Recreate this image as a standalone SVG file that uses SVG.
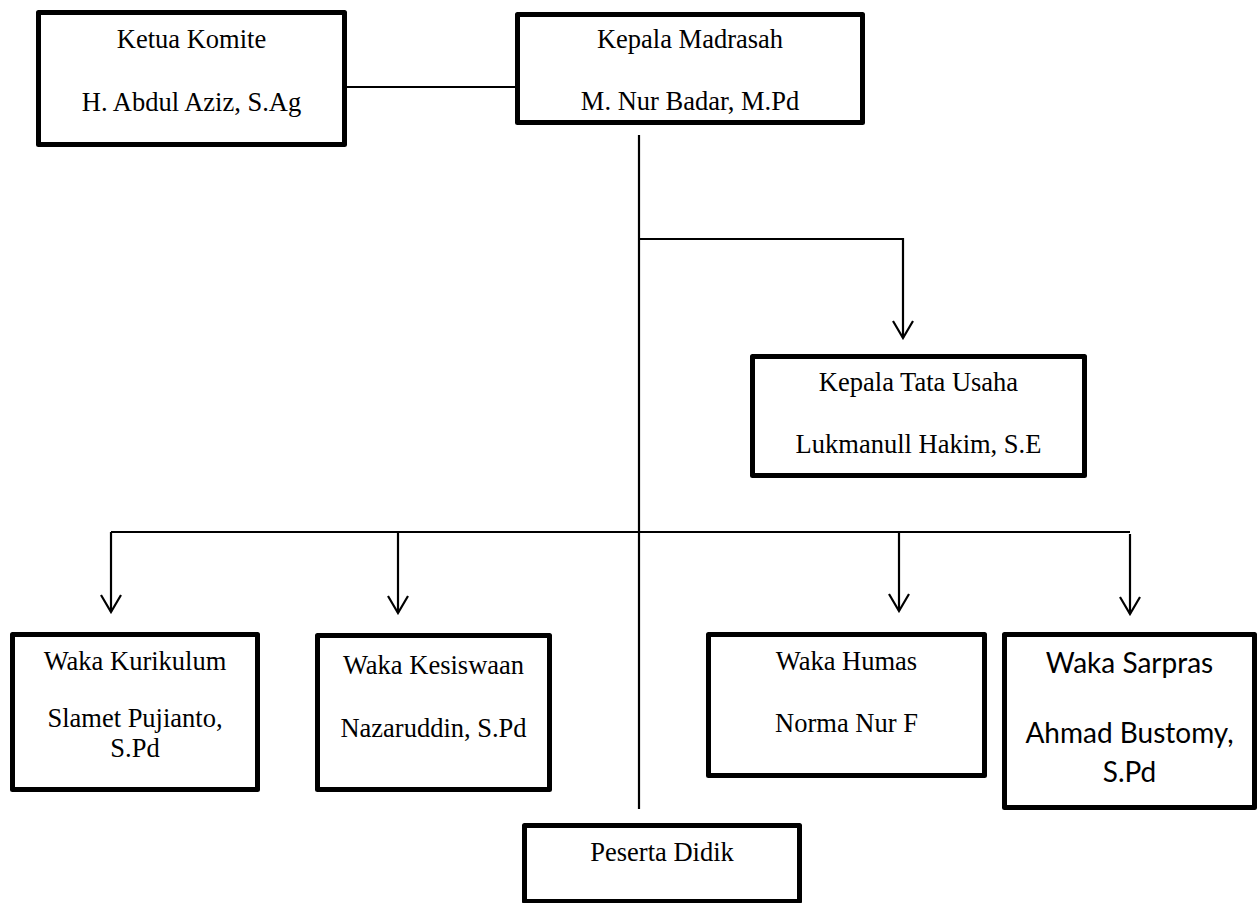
<svg xmlns="http://www.w3.org/2000/svg" width="1259" height="903" viewBox="0 0 1259 903">
<style>
.box{fill:#fff;stroke:#000;stroke-width:5;stroke-linejoin:round}
.t{font-family:"Liberation Serif","Times New Roman",serif;font-size:26.5px;fill:#000;text-anchor:middle}
.c{font-family:Lato,"Open Sans","Liberation Sans",sans-serif;font-size:28px;fill:#000;text-anchor:middle}
.ln{fill:none;stroke:#000;stroke-width:2.2}
</style>
<defs>
<marker id="arr" markerWidth="20" markerHeight="24" refX="18" refY="11" orient="auto" markerUnits="userSpaceOnUse" viewBox="0 0 20 22">
<path d="M1,1 L18,11 L1,21" fill="none" stroke="#000" stroke-width="2.2"/>
</marker>
</defs>
<rect width="1259" height="903" fill="#fff"/>
<g id="connectors">
<line class="ln" x1="347" y1="87" x2="515" y2="87"/>
<line class="ln" x1="639" y1="135" x2="639" y2="809"/>
<polyline class="ln" points="639,239 903,239 903,338" marker-end="url(#arr)"/>
<line class="ln" x1="111" y1="532" x2="1130" y2="532"/>
<line class="ln" x1="111" y1="532" x2="111" y2="612" marker-end="url(#arr)"/>
<line class="ln" x1="398" y1="532" x2="398" y2="613" marker-end="url(#arr)"/>
<line class="ln" x1="899" y1="532" x2="899" y2="611" marker-end="url(#arr)"/>
<line class="ln" x1="1130" y1="534" x2="1130" y2="614" marker-end="url(#arr)"/>
</g>
<g id="ketua-komite">
<rect class="box" x="38.5" y="12.5" width="306" height="132"/>
<text class="t" x="191.5" y="48">Ketua Komite</text>
<text class="t" x="191.5" y="111">H. Abdul Aziz, S.Ag</text>
</g>
<g id="kepala-madrasah">
<rect class="box" x="517.5" y="14.5" width="345" height="108"/>
<text class="t" x="690" y="48">Kepala Madrasah</text>
<text class="t" x="690" y="110">M. Nur Badar, M.Pd</text>
</g>
<g id="kepala-tata-usaha">
<rect class="box" x="752.5" y="356.5" width="332" height="119"/>
<text class="t" x="918.5" y="391">Kepala Tata Usaha</text>
<text class="t" x="918.5" y="453">Lukmanull Hakim, S.E</text>
</g>
<g id="waka-kurikulum">
<rect class="box" x="12.5" y="634.5" width="245" height="155"/>
<text class="t" x="135" y="670">Waka Kurikulum</text>
<text class="t" x="135" y="727">Slamet Pujianto,</text>
<text class="t" x="135" y="757">S.Pd</text>
</g>
<g id="waka-kesiswaan">
<rect class="box" x="317.5" y="635.5" width="232" height="154"/>
<text class="t" x="433.5" y="674">Waka Kesiswaan</text>
<text class="t" x="433.5" y="737">Nazaruddin, S.Pd</text>
</g>
<g id="waka-humas">
<rect class="box" x="708.5" y="634.5" width="276" height="141"/>
<text class="t" x="846.5" y="670">Waka Humas</text>
<text class="t" x="846.5" y="732">Norma Nur F</text>
</g>
<g id="waka-sarpras">
<rect class="box" x="1004.5" y="634.5" width="250" height="173"/>
<text class="c" x="1129.5" y="673">Waka Sarpras</text>
<text class="c" x="1129.5" y="743">Ahmad Bustomy,</text>
<text class="c" x="1129.5" y="782">S.Pd</text>
</g>
<g id="peserta-didik">
<rect class="box" x="524.5" y="825.5" width="275" height="76"/>
<text class="t" x="662" y="861">Peserta Didik</text>
</g>
</svg>
